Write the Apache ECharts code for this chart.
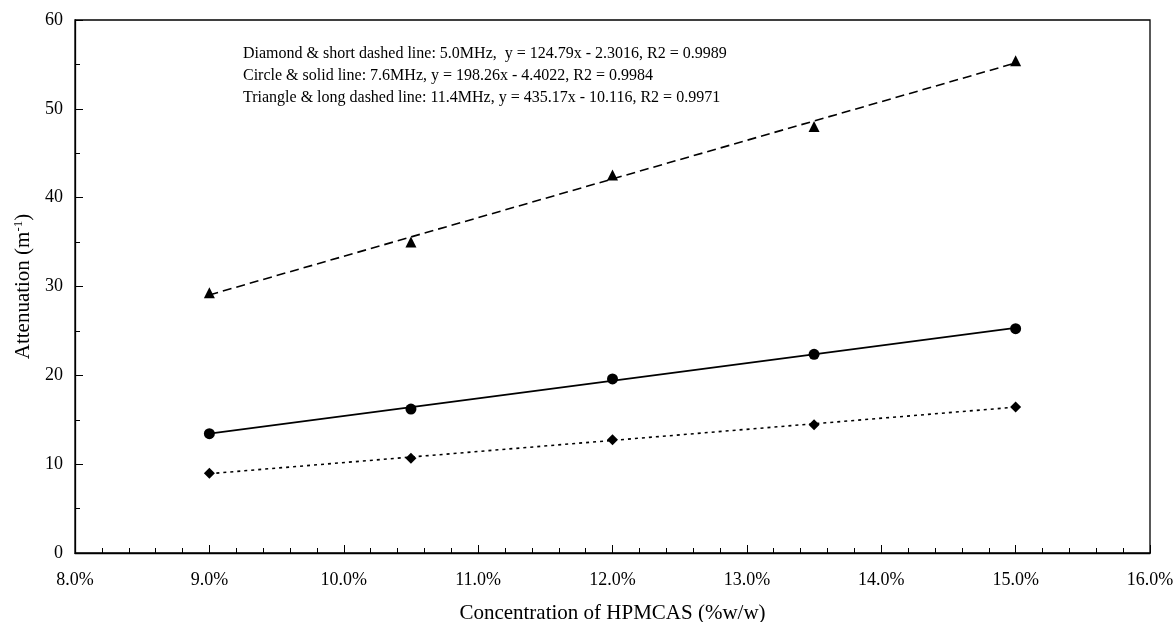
<!DOCTYPE html>
<html>
<head>
<meta charset="utf-8">
<script src="https://cdn.jsdelivr.net/npm/echarts@6/dist/echarts.min.js"></script>
<style>html,body{margin:0;padding:0;background:#fff}#c{width:1173px;height:622px}</style>
</head>
<body>
<div id="c"></div>
<script>
// concentration (% w/w)
const conc = [9.0, 10.5, 12.0, 13.5, 15.0];
// measured attenuation (m^-1)
const diamond5MHz = [8.97, 10.66, 12.76, 14.45, 16.44];
const circle76MHz = [13.43, 16.2, 19.6, 22.37, 25.25];
const triangle114MHz = [29.3, 35.0, 42.55, 48.0, 55.4];
// trend line end points
const trendX = [9.0, 15.0];
const diamondTrend = [8.93, 16.42];
const circleTrend = [13.44, 25.34];
const triangleTrend = [29.05, 55.16];
const xTicks = {min: 8, max: 16, interval: 1};
const yTicks = {min: 0, max: 60, interval: 10};
const notes = [
  'Diamond & short dashed line: 5.0MHz,  y = 124.79x - 2.3016, R2 = 0.9989',
  'Circle & solid line: 7.6MHz, y = 198.26x - 4.4022, R2 = 0.9984',
  'Triangle & long dashed line: 11.4MHz, y = 435.17x - 10.116, R2 = 0.9971'
];

const font = 'Liberation Serif, Times New Roman, serif';
const pair = (xs, ys) => xs.map((x, i) => [x, ys[i]]);

function trend(ys, dash) {
  return {
    type: 'line', data: pair(trendX, ys), symbol: 'none', silent: true,
    lineStyle: {color: '#000', width: 1.6, type: dash}, z: 2
  };
}
function pts(ys, symbol, size) {
  return {
    type: 'scatter', data: pair(conc, ys), symbol: symbol, symbolSize: size,
    itemStyle: {color: '#000', opacity: 1}, z: 3
  };
}

const chart = echarts.init(document.getElementById('c'));
chart.setOption({
  animation: false,
  grid: {left: 75, right: 23, top: 20, bottom: 69, show: true, borderColor: '#000', borderWidth: 1.3,
         containLabel: false, outerBoundsMode: 'none'},
  xAxis: {
    type: 'value', min: xTicks.min, max: xTicks.max, interval: xTicks.interval,
    name: 'Concentration of HPMCAS (%w/w)', nameLocation: 'middle', nameGap: 50,
    nameTextStyle: {fontFamily: font, fontSize: 21, color: '#000'},
    axisLine: {lineStyle: {color: '#000', width: 1.3}},
    axisTick: {inside: true, length: 8, lineStyle: {color: '#000'}},
    minorTick: {show: true, splitNumber: 5, length: 5, lineStyle: {color: '#000'}},
    splitLine: {show: false},
    axisLabel: {fontFamily: font, fontSize: 18, color: '#000', margin: 18, formatter: v => v.toFixed(1) + '%'}
  },
  yAxis: {
    type: 'value', min: yTicks.min, max: yTicks.max, interval: yTicks.interval,
    name: '{a|Attenuation (m}{s|-1}{a|)}', nameLocation: 'middle', nameGap: 40,
    nameTextStyle: {
      rich: {
        a: {fontFamily: font, fontSize: 21, color: '#000'},
        s: {fontFamily: font, fontSize: 13, color: '#000', verticalAlign: 'top', padding: [0, 0, 10, 0]}
      }
    },
    axisLine: {show: true, lineStyle: {color: '#000', width: 1.3}},
    axisTick: {show: true, inside: true, length: 8, lineStyle: {color: '#000'}},
    minorTick: {show: true, splitNumber: 2, length: 5, lineStyle: {color: '#000'}},
    splitLine: {show: false},
    axisLabel: {fontFamily: font, fontSize: 18, color: '#000', margin: 12}
  },
  graphic: notes.map((t, i) => ({
    type: 'text', left: 243, top: 46 + i * 22,
    style: {text: t, font: '16px ' + font, fill: '#000'}
  })),
  series: [
    trend(diamondTrend, [3, 4]),
    trend(circleTrend, 'solid'),
    trend(triangleTrend, [9, 5]),
    pts(diamond5MHz, 'diamond', 11),
    pts(circle76MHz, 'circle', 11),
    pts(triangle114MHz, 'triangle', 11)
  ]
});
</script>
</body>
</html>
